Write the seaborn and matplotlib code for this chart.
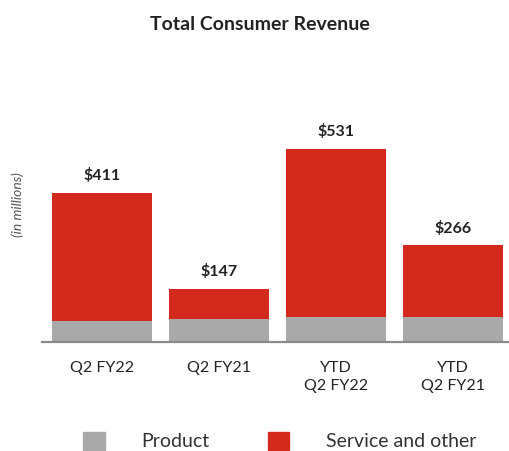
import pandas as pd
import seaborn as sns
import matplotlib.pyplot as plt
from matplotlib.patches import Patch

categories = ["Q2 FY22", "Q2 FY21", "YTD\nQ2 FY22", "YTD\nQ2 FY21"]
total = [411, 147, 531, 266]
product = [58, 63, 69, 69]

red = "#D42A1E"
grey = "#A9A9A9"

sns.set_theme(style="white")
plt.rcParams["font.family"] = ["Lato", "DejaVu Sans"]

fig = plt.figure(figsize=(5.09, 4.51), dpi=100)
ax = fig.add_axes([42 / 509, 109 / 451, 467 / 509, 220 / 451])

df = pd.DataFrame({"cat": categories, "total": total, "product": product})

sns.barplot(data=df, x="cat", y="total", color=red, width=0.855,
            saturation=1, linewidth=0, ax=ax, legend=False)
sns.barplot(data=df, x="cat", y="product", color=grey, width=0.855,
            saturation=1, linewidth=0, ax=ax, legend=False)

ax.bar_label(ax.containers[0], labels=[f"${v}" for v in total],
             padding=7, fontsize=11.5, fontweight="bold", color="#222222")

ax.set_xlim(-0.513, 3.479)
ax.set_ylim(0, 605)
ax.set_xlabel("")
ax.set_ylabel("")
ax.set_yticks([])
sns.despine(ax=ax, left=True)
ax.spines["bottom"].set_color("#8a8a8a")
ax.spines["bottom"].set_linewidth(1.6)
ax.tick_params(axis="x", length=0, pad=14, labelsize=11.5, labelcolor="#222222")
for t in ax.get_xticklabels():
    t.set_linespacing(1.3)

fig.text(260 / 509, 1 - 24 / 451, "Total Consumer Revenue", ha="center",
         va="center", fontsize=14, fontweight="bold", color="#222222")
fig.text(18 / 509, 1 - 205 / 451, "(in millions)", rotation=90, ha="center",
         va="center", fontsize=10, style="italic", color="#555555")

handles = [Patch(color=grey, label="Product"),
           Patch(color=red, label="Service and other")]
fig.legend(handles=handles, loc="center", bbox_to_anchor=(0.55, 1 - 441 / 451),
           ncol=2, frameon=False, fontsize=14, handlelength=1.1,
           handleheight=1.1, handletextpad=1.9, columnspacing=3.0,
           labelcolor="#333333")

plt.savefig("out.png", dpi=100)
